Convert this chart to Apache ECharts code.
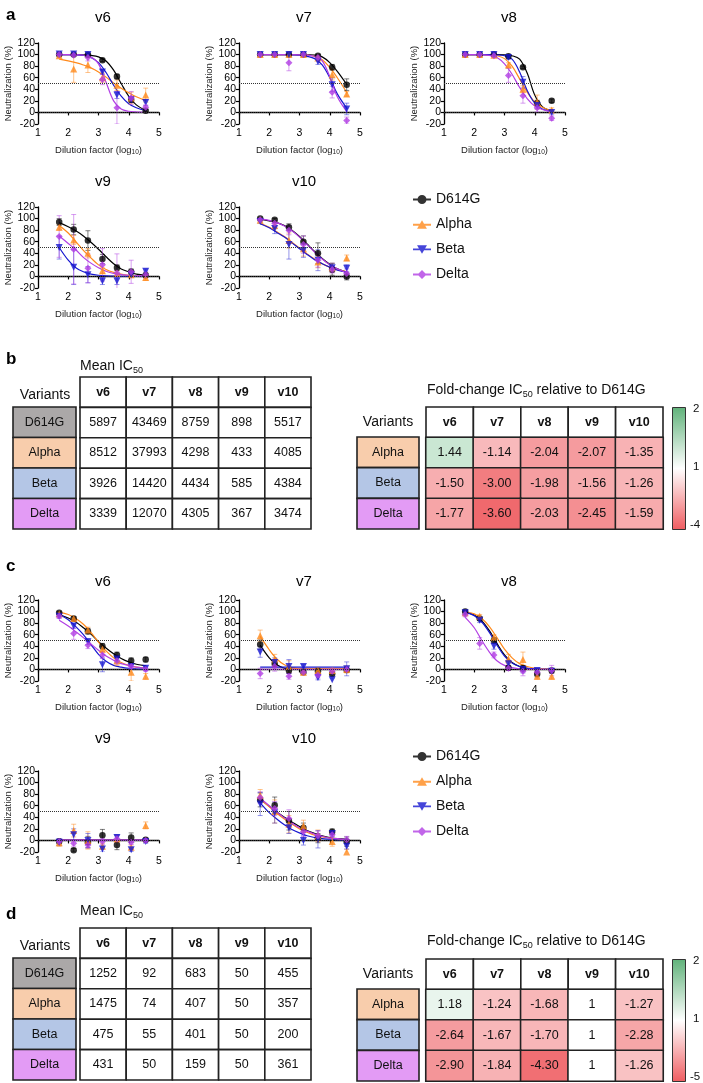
<!DOCTYPE html>
<html>
<head>
<meta charset="utf-8">
<script src="https://cdn.jsdelivr.net/npm/echarts@6/dist/echarts.min.js"></script>
<style>
html, body { margin: 0; background: #fff; }
#chart { width: 703px; height: 1083px; }
</style>
</head>
<body>
<div id="chart"></div>
<script>
// dilution points (log10) and x grid used to trace the fitted curves
var doses = [1.7, 2.18, 2.65, 3.13, 3.61, 4.08, 4.56];
var fitX = [1.7, 2.0, 2.25, 2.5, 2.75, 3.0, 3.25, 3.5, 3.75, 4.0, 4.25, 4.58];
var variants = ['D614G', 'Alpha', 'Beta', 'Delta'];
var versions = ['v6', 'v7', 'v8', 'v9', 'v10'];

// panel a -- rows: D614G, Alpha, Beta, Delta
var aV6Mean = [[100, 100, 99.5, 90, 62, 22, 3], [98, 75, 82, 60, 47, 25, 30], [101, 101, 100, 70, 30, 22, 17], [100, 99, 95, 57, 8, 25, 9]];
var aV6Sd = [[1, 1, 1, 2, 4, 5, 2], [2, 23, 13, 8, 9, 10, 12], [1, 1, 1, 4, 6, 4, 5], [1, 1, 6, 9, 28, 11, 4]];
var aV6Fit = [[100, 100, 100, 99.5, 98.5, 96, 89, 73, 50, 28, 13, 3], [92, 89, 86, 82, 77, 70, 61, 51, 42, 34, 27, 20], [100, 100, 99.5, 98.5, 95, 86, 69, 47, 28, 15, 8, 3], [100, 100, 100, 99, 96, 84, 52, 20, 6, 2, 1, 0]];

var aV7Mean = [[100, 100, 100, 100, 98, 78, 48], [100, 100, 100, 100, 94, 65, 32], [100, 100, 100, 100, 88, 48, 6], [100, 100, 86, 100, 95, 35, -14]];
var aV7Sd = [[0.5, 0.5, 0.5, 0.5, 2, 5, 10], [0.5, 0.5, 0.5, 0.5, 3, 9, 4], [0.5, 0.5, 0.5, 0.5, 5, 12, 10], [0.5, 0.5, 14, 1, 3, 10, 6]];
var aV7Fit = [[100, 100, 100, 100, 100, 100, 99.5, 99, 96, 86, 71, 47], [100, 100, 100, 100, 100, 99.5, 99, 97, 91, 78, 60, 33], [100, 100, 100, 100, 99.5, 99, 97, 93, 82, 60, 32, 6], [100, 100, 100, 100, 100, 99.5, 99, 97, 89, 62, 27, 0]];

var aV8Mean = [[100, 100, 100, 97, 78, 16, 20], [100, 100, 99, 82, 40, 18, 4], [100, 100, 100, 95, 52, 12, 0], [100, 100, 98, 64, 29, 8, -10]];
var aV8Sd = [[0.5, 0.5, 0.5, 1, 2, 5, 3], [0.5, 0.5, 1, 4, 6, 12, 4], [0.5, 0.5, 0.5, 3, 10, 6, 3], [0.5, 0.5, 1, 12, 13, 7, 4]];
var aV8Fit = [[100, 100, 100, 100, 100, 99.5, 98, 92, 68, 30, 10, 2], [100, 100, 100, 99.5, 98, 93, 80, 58, 35, 18, 9, 3], [100, 100, 100, 100, 99.5, 98, 92, 70, 38, 16, 6, 1], [100, 100, 99.5, 98.5, 95, 84, 66, 43, 24, 11, 5, 1]];

var aV9Mean = [[94, 81, 62, 30, 15, 8, 2], [85, 63, 40, 10, 5, 3, -2], [50, 16, 3, -8, -8, 3, 9], [69, 47, 14, 20, 6, 8, 3]];
var aV9Sd = [[6, 9, 17, 8, 5, 5, 4], [5, 8, 8, 5, 5, 4, 5], [20, 30, 14, 6, 6, 5, 4], [36, 60, 25, 28, 33, 20, 6]];
var aV9Fit = [[93, 86, 79, 70, 59, 47, 34, 22, 13, 8, 4, 2], [88, 75, 60, 45, 32, 20, 12, 7, 4, 2, 1, 0], [50, 28, 15, 8, 4, 2, 1, 0.5, 0, 0, 0, 0], [70, 57, 46, 33, 23, 15, 9, 5, 3, 2, 1, 1]];

var aV10Mean = [[100, 98, 85, 60, 40, 12, 0], [97, 88, 62, 48, 25, 15, 32], [95, 83, 55, 45, 28, 15, 14], [98, 92, 80, 55, 28, 12, 5]];
var aV10Sd = [[1, 2, 6, 10, 18, 10, 6], [2, 6, 13, 13, 10, 8, 5], [3, 9, 25, 12, 18, 8, 6], [2, 4, 8, 15, 12, 6, 8]];
var aV10Fit = [[99, 96, 93, 88, 80, 69, 56, 43, 31, 21, 13, 7], [92, 85, 77, 69, 59, 49, 39, 30, 22, 16, 12, 8], [91, 84, 76, 68, 58, 48, 38, 29, 22, 16, 11, 7], [99, 97, 93, 87, 79, 68, 55, 42, 30, 20, 13, 6]];

// panel c
var cV6Mean = [[98, 88, 66, 40, 25, 15, 17], [96, 88, 68, 35, 15, -5, -12], [92, 75, 48, 8, 18, 5, 2], [92, 62, 42, 25, 15, 5, 0]];
var cV6Sd = [[2, 3, 5, 5, 5, 5, 4], [3, 3, 5, 5, 8, 15, 5], [3, 4, 5, 12, 6, 5, 4], [4, 10, 6, 6, 6, 4, 3]];
var cV6Fit = [[95, 89, 82, 72, 61, 48, 37, 27, 19, 13, 9, 6], [99, 95, 88, 78, 64, 47, 32, 20, 12, 7, 4, 2], [95, 86, 74, 60, 43, 26, 14, 7, 4, 2, 1, 0], [85, 75, 65, 55, 44, 33, 23, 16, 10, 7, 4, 2]];

var cV7Mean = [[43, 10, -2, -5, -3, -8, -1], [58, 18, 5, -5, -2, -2, 0], [30, 12, 5, 5, -14, -18, 1], [-7, 5, -12, -5, -10, -3, 0]];
var cV7Sd = [[8, 6, 5, 4, 5, 4, 3], [10, 8, 10, 4, 4, 4, 6], [9, 8, 12, 3, 4, 3, 12], [9, 8, 5, 4, 5, 5, 4]];
var cV7Fit = [[42, 20, 8, 2, 0, 0, 0, 0, 0, 0, 0, 0], [57, 34, 18, 8, 3, 1, 1, 1, 1, 1, 1, 1], [4, 4, 4, 4, 4, 4, 4, 4, 4, 4, 4, 4], [0, 0, 0, 0, 0, 0, 0, 0, 0, 0, 0, 0]];

var cV8Mean = [[100, 88, 50, 3, 2, -8, -2], [98, 92, 55, 18, 17, -12, -12], [98, 85, 40, 10, 0, -2, -3], [95, 45, 25, 2, -3, -5, -2]];
var cV8Sd = [[2, 3, 5, 4, 5, 5, 3], [2, 3, 5, 8, 13, 5, 5], [3, 4, 5, 5, 6, 4, 4], [4, 10, 5, 4, 8, 5, 9]];
var cV8Fit = [[99, 94, 84, 67, 45, 25, 12, 5, 2, 1, 0, 0], [99, 96, 88, 74, 55, 35, 20, 10, 5, 2, 1, 0], [99, 93, 82, 64, 42, 23, 11, 5, 2, 1, 0, 0], [90, 72, 50, 30, 15, 7, 3, 1, 0, 0, 0, 0]];

var cV9Mean = [[-2, -17, -3, 9, -8, 5, 1], [-4, 17, 0, -10, 3, -12, 26], [-3, 10, 0, -15, 5, -16, -2], [-2, -5, -8, -2, 3, -3, 0]];
var cV9Sd = [[4, 3, 10, 10, 8, 8, 3], [6, 11, 15, 5, 6, 4, 6], [6, 10, 12, 5, 5, 3, 3], [4, 5, 5, 5, 6, 4, 3]];
var cV9Fit = [[1, 1, 1, 1, 1, 1, 1, 1, 1, 1, 1, 1], [1, 1, 1, 1, 1, 1, 1, 1, 1, 1, 1, 1], [0.5, 0.5, 0.5, 0.5, 0.5, 0.5, 0.5, 0.5, 0.5, 0.5, 0.5, 0.5], [0.5, 0.5, 0.5, 0.5, 0.5, 0.5, 0.5, 0.5, 0.5, 0.5, 0.5, 0.5]];

var cV10Mean = [[70, 61, 34, 22, 4, 15, -2], [78, 50, 28, 25, 8, -2, -20], [63, 48, 22, 0, 2, 12, -10], [74, 55, 38, 15, 8, 10, 1]];
var cV10Sd = [[12, 14, 16, 8, 8, 5, 8], [10, 20, 15, 10, 10, 8, 5], [20, 18, 10, 8, 15, 5, 5], [10, 12, 15, 8, 8, 6, 6]];
var cV10Fit = [[71, 59, 49, 40, 32, 24, 17, 12, 8, 5, 3, 2], [72, 58, 47, 37, 28, 20, 14, 9, 6, 4, 2, 1], [65, 48, 37, 27, 19, 13, 8, 5, 3, 2, 1, 0], [73, 60, 49, 39, 30, 22, 16, 11, 7, 4, 3, 1]];

// tables b and d
var bMeanIC50 = [[5897, 43469, 8759, 898, 5517], [8512, 37993, 4298, 433, 4085], [3926, 14420, 4434, 585, 4384], [3339, 12070, 4305, 367, 3474]];
var bFold = [[1.44, -1.14, -2.04, -2.07, -1.35], [-1.50, -3.00, -1.98, -1.56, -1.26], [-1.77, -3.60, -2.03, -2.45, -1.59]];
var dMeanIC50 = [[1252, 92, 683, 50, 455], [1475, 74, 407, 50, 357], [475, 55, 401, 50, 200], [431, 50, 159, 50, 361]];
var dFold = [[1.18, -1.24, -1.68, 1, -1.27], [-2.64, -1.67, -1.70, 1, -2.28], [-2.90, -1.84, -4.30, 1, -1.26]];

var colors = ['#000000', '#ff8a1c', '#1717d0', '#b23fe4'];
var barColors = ['rgba(0,0,0,0.5)', 'rgba(255,138,28,0.5)', 'rgba(23,23,208,0.45)', 'rgba(178,63,228,0.5)'];
var symbols = ['circle', 'triangle', 'triangle', 'diamond'];
var rotations = [0, 0, 180, 0];
var icons = [
  'path://M0,4 H20 V6 H0 Z M15,5 A5,5 0 1,1 5,5 A5,5 0 1,1 15,5 Z',
  'path://M0,4 H20 V6 H0 Z M10,0 L15.5,9.5 L4.5,9.5 Z',
  'path://M0,4 H20 V6 H0 Z M4.5,0.5 L15.5,0.5 L10,10 Z',
  'path://M0,4 H20 V6 H0 Z M10,0 L15,5 L10,10 L5,5 Z'
];
var cellColors = ['#aba8a8', '#f8cdac', '#b4c6e6', '#e39bf5'];
var red = [239, 92, 96], cellGreen = [135, 200, 155], barGreen = [96, 178, 122];
var font = 'Liberation Sans, Arial, Helvetica, sans-serif';

var panels = [
  { t: 'v6', left: 38, top: 43, tt: 5, mean: aV6Mean, sd: aV6Sd, fit: aV6Fit },
  { t: 'v7', left: 239, top: 43, tt: 5, mean: aV7Mean, sd: aV7Sd, fit: aV7Fit },
  { t: 'v8', left: 444, top: 43, tt: 5, mean: aV8Mean, sd: aV8Sd, fit: aV8Fit },
  { t: 'v9', left: 38, top: 207, tt: 169, mean: aV9Mean, sd: aV9Sd, fit: aV9Fit },
  { t: 'v10', left: 239, top: 207, tt: 169, mean: aV10Mean, sd: aV10Sd, fit: aV10Fit },
  { t: 'v6', left: 38, top: 600, tt: 569, mean: cV6Mean, sd: cV6Sd, fit: cV6Fit },
  { t: 'v7', left: 239, top: 600, tt: 569, mean: cV7Mean, sd: cV7Sd, fit: cV7Fit },
  { t: 'v8', left: 444, top: 600, tt: 569, mean: cV8Mean, sd: cV8Sd, fit: cV8Fit },
  { t: 'v9', left: 38, top: 771, tt: 726, mean: cV9Mean, sd: cV9Sd, fit: cV9Fit },
  { t: 'v10', left: 239, top: 771, tt: 726, mean: cV10Mean, sd: cV10Sd, fit: cV10Fit }
];

function mix(c, f) {
  return 'rgb(' + c.map(function (v) { return Math.round(255 - f * (255 - v)); }).join(',') + ')';
}
function scaleColors(steps) {
  // red -> white over `steps` intervals, then green for the last one
  var out = [];
  for (var i = steps; i >= 0; i--) out.push(mix(red, i / steps));
  out.push(mix(cellGreen, 1));
  return out;
}
function fmt(v) { return v === 1 ? '1' : v.toFixed(2); }

function errorBar(params, api) {
  var x = api.value(0);
  var hi = api.coord([x, api.value(2)]);
  var lo = api.coord([x, api.value(1)]);
  var style = { stroke: api.visual('color'), lineWidth: 1 };
  return {
    type: 'group',
    children: [
      { type: 'line', shape: { x1: hi[0], y1: hi[1], x2: lo[0], y2: lo[1] }, style: style },
      { type: 'line', shape: { x1: hi[0] - 2.5, y1: hi[1], x2: hi[0] + 2.5, y2: hi[1] }, style: style },
      { type: 'line', shape: { x1: lo[0] - 2.5, y1: lo[1], x2: lo[0] + 2.5, y2: lo[1] }, style: style }
    ]
  };
}

function cellRenderer(cells) {
  return function (params, api) {
    var d = cells[params.dataIndex];
    var c = api.coord([api.value(0), api.value(1)]);
    var s = api.size([1, 1]);
    return {
      type: 'rect',
      shape: { x: c[0] - s[0] / 2, y: c[1] - s[1] / 2, width: s[0], height: s[1] },
      style: { fill: d.fill, stroke: '#222', lineWidth: 1.6 },
      textContent: { style: { text: d.text, fill: '#111', font: (d.bold ? 'bold ' : '') + '12.5px ' + font } },
      textConfig: { position: 'inside' }
    };
  };
}

var grids = [], xAxes = [], yAxes = [], series = [], titles = [];

panels.forEach(function (p, g) {
  grids.push({ left: p.left, top: p.top, width: 121, height: 81 });
  xAxes.push({
    gridIndex: g, type: 'value', min: 1, max: 5, interval: 1,
    name: '{n|Dilution factor (log}{s|10}{n|)}', nameLocation: 'middle', nameGap: 20,
    nameTextStyle: { rich: { n: { fontSize: 9.5, color: '#222', lineHeight: 12, fontFamily: font }, s: { fontSize: 6.5, color: '#222', lineHeight: 12, verticalAlign: 'bottom', fontFamily: font } } },
    axisLine: { lineStyle: { color: '#000', width: 1.3 } },
    axisTick: { length: 3, lineStyle: { color: '#000', width: 1.2 } },
    axisLabel: { fontSize: 10.5, color: '#000', margin: 4 },
    splitLine: { show: false }
  });
  yAxes.push({
    gridIndex: g, type: 'value', min: -20, max: 120, interval: 20,
    name: 'Neutralization (%)', nameLocation: 'middle', nameGap: 24,
    nameTextStyle: { fontSize: 9.5, color: '#222' },
    axisLine: { show: true, lineStyle: { color: '#000', width: 1.3 } },
    axisTick: { show: true, length: 3, lineStyle: { color: '#000', width: 1.2 } },
    axisLabel: { fontSize: 10.5, color: '#000', margin: 3 },
    splitLine: { show: false }
  });
  titles.push({ text: p.t, left: p.left + 60, top: p.tt, textAlign: 'center', textStyle: { fontSize: 15, fontWeight: 'normal', color: '#000' } });

  variants.forEach(function (v, k) {
    series.push({
      type: 'line', name: v + ' fit', xAxisIndex: g, yAxisIndex: g, silent: true, z: 2,
      data: fitX.map(function (x, i) { return [x, p.fit[k][i]]; }),
      smooth: 0.35, showSymbol: false,
      lineStyle: { color: colors[k], width: 1.2 }, itemStyle: { color: colors[k] },
      markLine: k === 0 ? {
        silent: true, symbol: 'none', label: { show: false },
        lineStyle: { type: 'dotted', color: '#333', width: 1 },
        data: [{ yAxis: 50 }, { yAxis: 0 }]
      } : undefined
    });
    series.push({
      type: 'custom', name: v + ' sd', xAxisIndex: g, yAxisIndex: g, silent: true, z: 3, clip: true,
      itemStyle: { color: barColors[k] },
      renderItem: errorBar,
      data: doses.map(function (x, i) { return [x, p.mean[k][i] - p.sd[k][i], p.mean[k][i] + p.sd[k][i]]; })
    });
    series.push({
      type: 'scatter', name: v, xAxisIndex: g, yAxisIndex: g, silent: true, z: 4,
      symbol: symbols[k], symbolRotate: rotations[k], symbolSize: k === 0 ? 6.5 : 7,
      itemStyle: { color: colors[k] },
      data: doses.map(function (x, i) { return [x, p.mean[k][i]]; })
    });
  });
});

// ---- tables ----
function addGrid(left, top, width, height, xCats, yCats) {
  grids.push({ left: left, top: top, width: width, height: height });
  xAxes.push({ gridIndex: grids.length - 1, type: 'category', data: xCats, show: false });
  yAxes.push({ gridIndex: grids.length - 1, type: 'category', data: yCats, inverse: true, show: false });
  return grids.length - 1;
}
function addCells(g, cells) {
  series.push({
    type: 'custom', xAxisIndex: g, yAxisIndex: g, silent: true,
    renderItem: cellRenderer(cells),
    data: cells.map(function (d) { return [d.c, d.r]; })
  });
}
function labelColumn(left, top, height, names) {
  var g = addGrid(left, top, left === 13 ? 63 : 62, height, [''], names);
  addCells(g, names.map(function (n, r) {
    return { c: 0, r: r, text: n, fill: cellColors[variants.indexOf(n)] };
  }));
}
function meanTable(top, values) {
  var g = addGrid(80, top, 231, 152, versions, ['hdr'].concat(variants));
  var cells = versions.map(function (v, c) { return { c: c, r: 0, text: v, bold: true, fill: '#fff' }; });
  values.forEach(function (row, r) {
    row.forEach(function (val, c) { cells.push({ c: c, r: r + 1, text: String(val), fill: '#fff' }); });
  });
  addCells(g, cells);
}
var heatIdx = [];
function foldTable(top, values) {
  var g = addGrid(426, top, 237, 122, versions, ['hdr', 'Alpha', 'Beta', 'Delta']);
  addCells(g, versions.map(function (v, c) { return { c: c, r: 0, text: v, bold: true, fill: '#fff' }; }));
  var data = [];
  values.forEach(function (row, r) {
    row.forEach(function (val, c) { data.push([c, r + 1, val]); });
  });
  heatIdx.push(series.length);
  series.push({
    type: 'heatmap', xAxisIndex: g, yAxisIndex: g, silent: true, data: data,
    itemStyle: { borderColor: '#222', borderWidth: 1.6 },
    label: { show: true, color: '#111', fontSize: 12.5, formatter: function (p) { return fmt(p.value[2]); } }
  });
}

labelColumn(13, 407, 122, variants);
meanTable(377, bMeanIC50);
labelColumn(357, 437, 92, ['Alpha', 'Beta', 'Delta']);
foldTable(407, bFold);

labelColumn(13, 958, 122, variants);
meanTable(928, dMeanIC50);
labelColumn(357, 989, 92, ['Alpha', 'Beta', 'Delta']);
foldTable(959, dFold);

// panel letters and table captions
var sub = {
  n: { fontSize: 14, fontWeight: 'normal', color: '#111', fontFamily: font, lineHeight: 17 },
  s: { fontSize: 9, fontWeight: 'normal', color: '#111', fontFamily: font, lineHeight: 17, verticalAlign: 'bottom' }
};
[['a', 2], ['b', 346], ['c', 553], ['d', 901]].forEach(function (l) {
  titles.push({ text: l[0], left: 1, top: l[1], textStyle: { fontSize: 17, fontWeight: 'bold', color: '#000' } });
});
[[80, 358], [80, 903]].forEach(function (pos) {
  titles.push({ text: '{n|Mean IC}{s|50}', left: pos[0], top: pos[1], padding: 0, textStyle: { fontWeight: 'normal', rich: sub } });
});
[[427, 382], [427, 933]].forEach(function (pos) {
  titles.push({ text: '{n|Fold-change IC}{s|50}{n| relative to D614G}', left: pos[0], top: pos[1], padding: 0, textStyle: { fontWeight: 'normal', rich: sub } });
});
[[45, 388], [45, 939], [388, 415], [388, 967]].forEach(function (pos) {
  titles.push({ text: 'Variants', left: pos[0], top: pos[1], textAlign: 'center', padding: 0, textStyle: { fontSize: 14, fontWeight: 'normal', color: '#111' } });
});

// colour bars beside the fold-change tables
var graphics = [];
[[407, ['2', '1', '-4']], [959, ['2', '1', '-5']]].forEach(function (cb) {
  graphics.push({
    type: 'rect', left: 672, top: cb[0], shape: { width: 13, height: 122 },
    style: {
      stroke: '#333', lineWidth: 1,
      fill: { type: 'linear', x: 0, y: 0, x2: 0, y2: 1, colorStops: [{ offset: 0, color: mix(barGreen, 1) }, { offset: 0.5, color: '#fff' }, { offset: 1, color: mix(red, 1) }] }
    }
  });
  cb[1].forEach(function (t, i) {
    graphics.push({ type: 'text', left: i === 2 ? 690 : 693, top: cb[0] - 4 + i * 58, style: { text: t, fill: '#111', font: '11.5px ' + font } });
  });
});

var legendData = variants.map(function (v, k) { return { name: v, icon: icons[k] }; });
function legendAt(top) {
  return {
    data: legendData, orient: 'vertical', left: 408, top: top, itemWidth: 18, itemHeight: 9, itemGap: 10,
    selectedMode: false, textStyle: { fontSize: 14, color: '#111', lineHeight: 15 }
  };
}

var option = {
  animation: false,
  textStyle: { fontFamily: font },
  title: titles,
  legend: [legendAt(187), legendAt(744)],
  grid: grids,
  xAxis: xAxes,
  yAxis: yAxes,
  visualMap: [
    { type: 'continuous', show: false, seriesIndex: heatIdx[0], dimension: 2, min: -4, max: 2, inRange: { color: scaleColors(5) } },
    { type: 'continuous', show: false, seriesIndex: heatIdx[1], dimension: 2, min: -5, max: 2, inRange: { color: scaleColors(6) } }
  ],
  graphic: graphics,
  series: series
};

var chart = echarts.init(document.getElementById('chart'));
chart.setOption(option);
</script>
</body>
</html>
